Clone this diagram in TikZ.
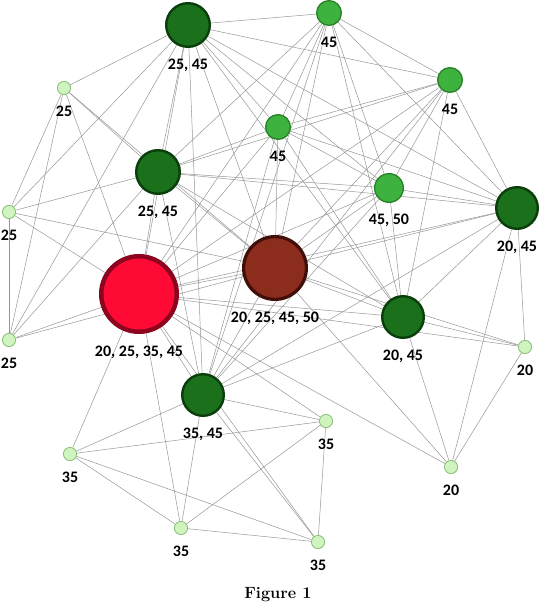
\documentclass[tikz,border=0pt]{standalone}
\usepackage{fontspec}
\newfontfamily\labfont{Carlito}
\usetikzlibrary{backgrounds}
\definecolor{dkfill}{RGB}{27,112,27}
\definecolor{dkdraw}{RGB}{10,62,10}
\definecolor{mdfill}{RGB}{62,178,62}
\definecolor{mddraw}{RGB}{38,128,38}
\definecolor{ltfill}{RGB}{208,244,192}
\definecolor{ltdraw}{RGB}{138,190,118}
\definecolor{rdfill}{RGB}{255,10,52}
\definecolor{rddraw}{RGB}{140,4,30}
\definecolor{brfill}{RGB}{140,44,28}
\definecolor{brdraw}{RGB}{66,14,8}
\definecolor{edgecol}{RGB}{150,150,150}
\begin{document}
\begin{tikzpicture}[x=1pt,y=-1pt,
  edge/.style={draw=edgecol, line width=0.5pt},
  vtx/.style={circle, inner sep=0pt},
  dkg/.style={vtx, fill=dkfill, draw=dkdraw, line width=2.4pt, minimum size=#1},
  mdg/.style={vtx, fill=mdfill, draw=mddraw, line width=1.3pt, minimum size=#1},
  ltg/.style={vtx, fill=ltfill, draw=ltdraw, line width=0.8pt, minimum size=13.2pt},
  rdn/.style={vtx, fill=rdfill, draw=rddraw, line width=4.5pt, minimum size=#1},
  brn/.style={vtx, fill=brfill, draw=brdraw, line width=3.2pt, minimum size=#1},
  lbl/.style={anchor=base, inner sep=0pt, font=\labfont\bfseries\fontsize{16}{16}\selectfont}
]
\useasboundingbox (0,0) rectangle (543,615);
% nodes
\node[dkg=43.6pt] (A) at (188,25) {};
\node[mdg=24.7pt] (B) at (329,13) {};
\node[mdg=24.7pt] (C) at (450,80) {};
\node[ltg] (D) at (64,88) {};
\node[mdg=24.7pt] (E) at (278,127) {};
\node[dkg=43.6pt] (F) at (158,172) {};
\node[mdg=28.7pt] (G) at (389,188) {};
\node[dkg=41.6pt] (H) at (517,208) {};
\node[ltg] (I) at (9,212) {};
\node[rdn=75.5pt] (J) at (139,294) {};
\node[brn=62.8pt] (K) at (275,268) {};
\node[dkg=41.6pt] (L) at (403,317) {};
\node[ltg] (M) at (9,340) {};
\node[ltg] (N) at (525,347) {};
\node[dkg=41.6pt] (O) at (203,395) {};
\node[ltg] (P) at (326,421) {};
\node[ltg] (Q) at (70,454) {};
\node[ltg] (R) at (451,467) {};
\node[ltg] (S) at (181,528) {};
\node[ltg] (T) at (318,542) {};
% labels
\foreach \n/\t/\d in {A/{25, 45}/21.5, B/45/21.5, C/45/21.5, D/25/21.5, E/45/21.5,
  F/{25, 45}/21.5, G/{45, 50}/21.5, H/{20, 45}/21.5, I/25/21.5, J/{20, 25, 35, 45}/22,
  K/{20, 25, 45, 50}/21.5, L/{20, 45}/21.5, M/25/21.5, N/20/21.5, O/{35, 45}/21.5,
  P/35/21.5, Q/35/21.5, R/20/21.5, S/35/21.5, T/35/21.5}
  \node[lbl] (l\n) at ([yshift=-\d pt]\n.south) {\t};
\node[anchor=base, inner sep=0pt, font=\bfseries\fontsize{16.3}{17}\selectfont] (cap) at (278,598) {Figure 1};
% edges
\begin{scope}[on background layer]
\foreach \a [count=\i] in {A,B,C,E,F,G,H,J,K,L,O}{
  \foreach \b [count=\j] in {A,B,C,E,F,G,H,J,K,L,O}{
    \ifnum\j>\i \draw[edge] (\a) -- (\b); \fi
  }
}
\foreach \a/\b in {D/A, D/F, D/I, D/J, D/K, D/M, I/A, I/F, I/J, I/K, I/M,
  M/A, M/F, M/J, M/K, N/H, N/J, N/K, N/L, N/R, R/H, R/J, R/K, R/L,
  P/J, P/O, P/Q, P/S, P/T, Q/J, Q/O, Q/S, Q/T, S/J, S/O, S/T, T/J, T/O}
  \draw[edge] (\a) -- (\b);
\end{scope}
\end{tikzpicture}
\end{document}
